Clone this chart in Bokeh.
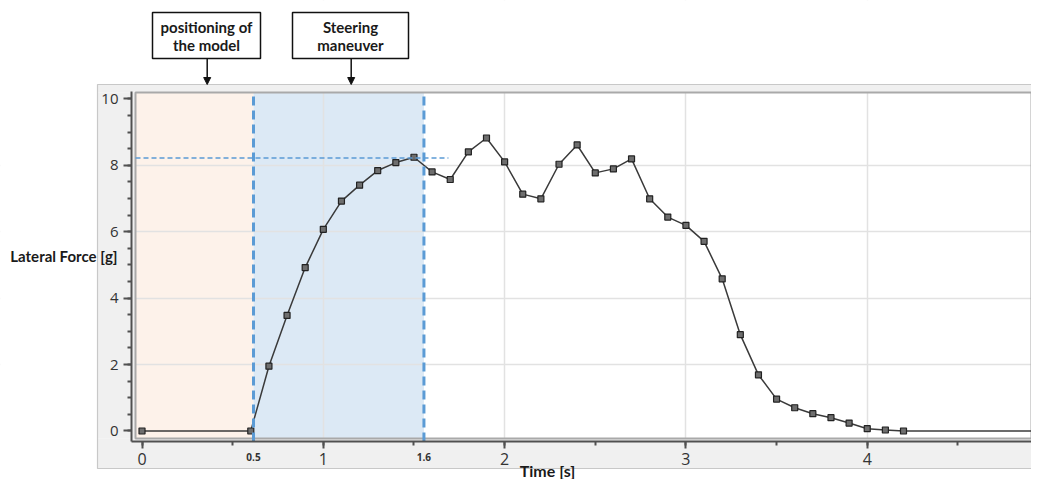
from bokeh.plotting import figure
from bokeh.models import (Range1d, SingleIntervalTicker, FixedTicker, BoxAnnotation,
                          Label, Arrow, NormalHead)
from bokeh.embed import file_html
from bokeh.resources import INLINE

# ---------------- data ----------------
time_s = [0.0, 0.6, 0.7, 0.8, 0.9, 1.0, 1.1, 1.2, 1.3, 1.4, 1.5, 1.6, 1.7, 1.8, 1.9,
          2.0, 2.1, 2.2, 2.3, 2.4, 2.5, 2.6, 2.7, 2.8, 2.9, 3.0, 3.1, 3.2, 3.3, 3.4,
          3.5, 3.6, 3.7, 3.8, 3.9, 4.0, 4.1, 4.2]
lateral_g = [0.0, 0.0, 1.95, 3.48, 4.92, 6.07, 6.92, 7.40, 7.84, 8.08, 8.24, 7.80, 7.57,
             8.40, 8.82, 8.10, 7.13, 6.99, 8.03, 8.61, 7.77, 7.89, 8.19, 6.99, 6.44,
             6.19, 5.71, 4.58, 2.90, 1.69, 0.96, 0.70, 0.52, 0.40, 0.24, 0.07, 0.03, 0.0]
tail_time = [4.2, 5.0]
tail_g = [0.0, 0.0]

phase_bounds = [0.615, 1.555]          # dashed phase limits [s]
phase_labels = ["0.5", "1.6"]
peak_level = 8.22
peak_line_end = 1.69
box_lines = [["positioning of", "the model"], ["Steering", "maneuver"]]
x_label = "Time [s]"
y_label = "Lateral Force [g]"
x_grid_ticks = [1, 2, 3, 4]
y_grid_ticks = [2, 4, 6, 8]

# ---------------- layout constants ----------------
W, H = 1031, 479
x_start, x_end = -0.7805, 4.906       # frame spans the whole canvas
y_start, y_end = -1.460, 12.959
x_axis_at, y_axis_at = -0.316, -0.0579
area_left, area_bottom, area_top = -0.0359, -0.226, 10.19
y_axis_top = 10.22

p = figure(width=W, height=H, output_backend="svg", toolbar_location=None,
           x_range=Range1d(x_start, x_end), y_range=Range1d(y_start, y_end),
           min_border=0)
p.title.visible = False
p.outline_line_color = None
p.background_fill_color = "white"
p.border_fill_color = "white"


def cbox(l, r, t, b, color, level="underlay", line_color=None, line_width=1):
    return BoxAnnotation(left=l, right=r, top=t, bottom=b,
                         left_units="canvas", right_units="canvas",
                         top_units="canvas", bottom_units="canvas",
                         fill_color=color, fill_alpha=1.0 if color else 0.0,
                         line_color=line_color, line_alpha=1.0,
                         line_width=line_width, level=level)


# plot area (below the grid)
p.add_layout(BoxAnnotation(left=area_left, bottom=area_bottom, top=area_top,
                           fill_color="white", fill_alpha=1.0, line_color=None,
                           level="image"))
p.add_layout(BoxAnnotation(left=area_left, right=phase_bounds[0], bottom=area_bottom,
                           top=area_top, fill_color="#fdf2ea", fill_alpha=1.0,
                           line_color=None, level="image"))
p.add_layout(BoxAnnotation(left=phase_bounds[0], right=phase_bounds[1], bottom=area_bottom,
                           top=area_top, fill_color="#dce9f5", fill_alpha=1.0,
                           line_color=None, level="image"))

# grid
p.xgrid.ticker = FixedTicker(ticks=x_grid_ticks)
p.ygrid.ticker = FixedTicker(ticks=y_grid_ticks)
p.grid.grid_line_color = "#e2e2e2"
p.grid.grid_line_width = 1.5

# surrounding panel (drawn over the grid, under the axes)
GREY = "#f0f0f0"
p.add_layout(cbox(0, W, 0, 84, "white"))
p.add_layout(cbox(0, 97, 84, H, "white"))
p.add_layout(cbox(97, W, 468, H, "white"))
p.add_layout(cbox(97, W, 84, 92, GREY))
p.add_layout(cbox(97, 135, 92, 438, GREY))
p.add_layout(cbox(97, W, 438, 468, GREY))
p.add_layout(cbox(97, W + 5, 84, 468, None, line_color="#c8c8c8", line_width=1.2))
# plot area border
p.add_layout(BoxAnnotation(left=area_left, bottom=area_bottom, top=area_top,
                           fill_alpha=0.0, line_color="#a9a9a9", line_alpha=1.0,
                           line_width=2, level="underlay"))

# axes placed at fixed data locations
p.xaxis.fixed_location = x_axis_at
p.yaxis.fixed_location = y_axis_at
p.xaxis.bounds = (y_axis_at, x_end)
p.yaxis.bounds = (x_axis_at, y_axis_top)
p.xaxis.ticker = SingleIntervalTicker(interval=1, num_minor_ticks=2)
p.yaxis.ticker = SingleIntervalTicker(interval=2, num_minor_ticks=4)
for ax in (p.xaxis, p.yaxis):
    ax.axis_line_color = "#505050"
    ax.axis_line_width = 2
    ax.major_tick_line_color = "#505050"
    ax.major_tick_line_width = 2
    ax.minor_tick_line_color = "#505050"
    ax.minor_tick_line_width = 2
    ax.major_tick_in = 0
    ax.minor_tick_in = 0
    ax.major_label_text_font = "Open Sans"
    ax.major_label_text_color = "#333333"
p.xaxis.major_tick_out = 7
p.xaxis.minor_tick_out = 4
p.yaxis.major_tick_out = 8
p.yaxis.minor_tick_out = 4
p.xaxis.major_label_text_font_size = "16px"
p.yaxis.major_label_text_font_size = "15px"
p.xaxis.major_label_standoff = 5
p.yaxis.major_label_standoff = 5

# data
p.line(tail_time, tail_g, line_color="#3a3a3a", line_width=1.5)
p.line(time_s, lateral_g, line_color="#3a3a3a", line_width=1.5)
p.scatter(time_s, lateral_g, marker="square", size=6, fill_color="#6e6e6e",
          line_color="#222222", line_width=1.2)

# dashed reference lines
p.segment(x0=[area_left], y0=[peak_level], x1=[peak_line_end], y1=[peak_level],
          line_color="#5b9bd5", line_width=1.5, line_dash="5 3")
p.segment(x0=phase_bounds, y0=[x_axis_at] * 2, x1=phase_bounds, y1=[area_top] * 2,
          line_color="#5b9bd5", line_width=3, line_dash="9 5")

# phase tick labels
for b, t in zip(phase_bounds, phase_labels):
    p.add_layout(Label(x=b, y=456, x_units="data", y_units="canvas", text=t,
                       text_align="center", text_baseline="middle",
                       text_font="Open Sans", text_font_size="10px",
                       text_font_style="bold", text_color="#333333"))

# axis titles
p.add_layout(Label(x=117, y=255, x_units="canvas", y_units="canvas", text=y_label,
                   text_align="right", text_baseline="middle", text_font="Lato",
                   text_font_size="15px", text_font_style="bold", text_color="#1a1a1a"))
p.add_layout(Label(x=547, y=470, x_units="canvas", y_units="canvas", text=x_label,
                   text_align="center", text_baseline="middle", text_font="Lato",
                   text_font_size="16px", text_font_style="bold", text_color="#1a1a1a"))

# phase description boxes with arrows
boxes = [(152, 260, 206.7), (292, 408, 350.7)]
for (bl, br, ax_x), lines in zip(boxes, box_lines):
    p.add_layout(cbox(bl, br, 12, 58, "white", level="annotation",
                      line_color="#111111", line_width=1.5))
    for i, ln in enumerate(lines):
        p.add_layout(Label(x=(bl + br) / 2, y=26 + 18 * i, x_units="canvas",
                           y_units="canvas", text=ln, text_align="center",
                           text_baseline="middle", text_font="Lato",
                           text_font_size="15px", text_font_style="bold",
                           text_color="#1a1a1a"))
    p.add_layout(Arrow(x_start=ax_x, y_start=58, x_end=ax_x, y_end=84,
                       start_units="canvas", end_units="canvas",
                       line_color="#111111", line_width=1.5,
                       end=NormalHead(size=7, fill_color="#111111",
                                      line_color="#111111")))

open("out.html", "w").write(file_html(p, INLINE))
